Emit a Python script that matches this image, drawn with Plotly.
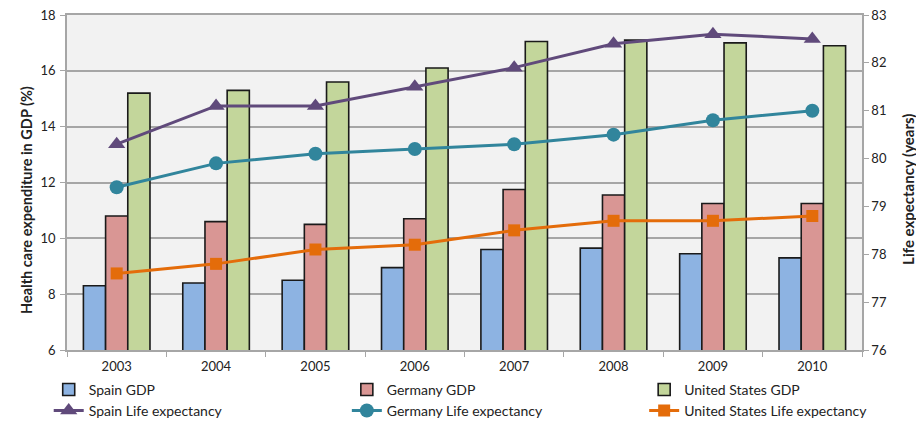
import plotly.graph_objects as go

years = ["2003", "2004", "2005", "2006", "2007", "2008", "2009", "2010"]
spain_gdp = [8.3, 8.4, 8.5, 8.95, 9.6, 9.65, 9.45, 9.3]
germany_gdp = [10.8, 10.6, 10.5, 10.7, 11.75, 11.55, 11.25, 11.25]
us_gdp = [15.2, 15.3, 15.6, 16.1, 17.05, 17.1, 17.0, 16.9]
spain_le = [80.3, 81.1, 81.1, 81.5, 81.9, 82.4, 82.6, 82.5]
germany_le = [79.4, 79.9, 80.1, 80.2, 80.3, 80.5, 80.8, 81.0]
us_le = [77.6, 77.8, 78.1, 78.2, 78.5, 78.7, 78.7, 78.8]

left_title = "Health care expenditure in GDP (%)"
right_title = "Life expectancy (years)"

FONT = "Lato"
fig = go.Figure()

bar_specs = [
    ("Spain GDP", spain_gdp, "#8DB3E2", "legend"),
    ("Germany GDP", germany_gdp, "#D99694", "legend2"),
    ("United States GDP", us_gdp, "#C3D69B", "legend3"),
]
for name, vals, col, lg in bar_specs:
    fig.add_trace(go.Bar(
        x=years, y=vals, name=name, legend=lg,
        marker=dict(color=col, line=dict(color="#1a1a1a", width=1.6)),
    ))

line_specs = [
    ("Spain Life expectancy", spain_le, "#604A7B", "triangle-up", 15, "legend4"),
    ("Germany Life expectancy", germany_le, "#31859C", "circle", 14, "legend5"),
    ("United States Life expectancy", us_le, "#E46C0A", "square", 12, "legend6"),
]
for name, vals, col, sym, sz, lg in line_specs:
    fig.add_trace(go.Scatter(
        x=years, y=vals, name=name, yaxis="y2", legend=lg,
        mode="lines+markers",
        line=dict(color=col, width=3),
        marker=dict(symbol=sym, size=sz, color=col),
    ))

axis_gray = "#A6A6A6"
legend_common = dict(orientation="v", xanchor="left", yanchor="middle",
                     bgcolor="rgba(0,0,0,0)", font=dict(family=FONT, size=14, color="#222"),
                     itemwidth=30)
col_x = [-0.023, 0.352, 0.726]
row_y = [-0.119, -0.182]
legends = {}
names = ["legend", "legend2", "legend3", "legend4", "legend5", "legend6"]
for i, nm in enumerate(names):
    r = i // 3
    c = i % 3
    legends[nm] = dict(legend_common, x=col_x[c], y=row_y[r])

fig.update_layout(
    width=916, height=423,
    margin=dict(l=67, r=54, t=15, b=73, autoexpand=False),
    paper_bgcolor="white",
    plot_bgcolor="#F2F2F2",
    font=dict(family=FONT, size=13, color="#222"),
    barmode="group", bargap=0.33, bargroupgap=0,
    showlegend=True,
    xaxis=dict(
        type="category", range=[-0.5, 7.5],
        showgrid=False, showline=True, linecolor=axis_gray, linewidth=1.5,
        mirror=True,
        ticks="outside", tickson="boundaries", ticklen=5, tickcolor=axis_gray,
        tickfont=dict(family=FONT, size=13), ticklabelstandoff=4,
    ),
    yaxis=dict(
        range=[6, 18], dtick=2, tick0=6,
        showgrid=True, gridcolor=axis_gray, gridwidth=1.5,
        showline=True, linecolor=axis_gray, linewidth=1.5,
        ticks="outside", ticklen=5, tickcolor=axis_gray,
        zeroline=False, ticklabelstandoff=2,
    ),
    yaxis2=dict(
        range=[76, 83], dtick=1, overlaying="y", side="right",
        showgrid=False, showline=True, linecolor=axis_gray, linewidth=1.5,
        ticks="outside", ticklen=5, tickcolor=axis_gray, zeroline=False,
    ),
    annotations=[
        dict(text="<b>" + left_title + "</b>", textangle=-90, showarrow=False,
             xref="paper", yref="paper", x=-0.0503, y=0.448,
             xanchor="center", yanchor="middle",
             font=dict(family=FONT, size=14.5, color="#222")),
        dict(text="<b>" + right_title + "</b>", textangle=-90, showarrow=False,
             xref="paper", yref="paper", x=1.0579, y=0.478,
             xanchor="center", yanchor="middle",
             font=dict(family=FONT, size=15, color="#222")),
    ],
    **legends,
)

fig.write_html("out.html")
